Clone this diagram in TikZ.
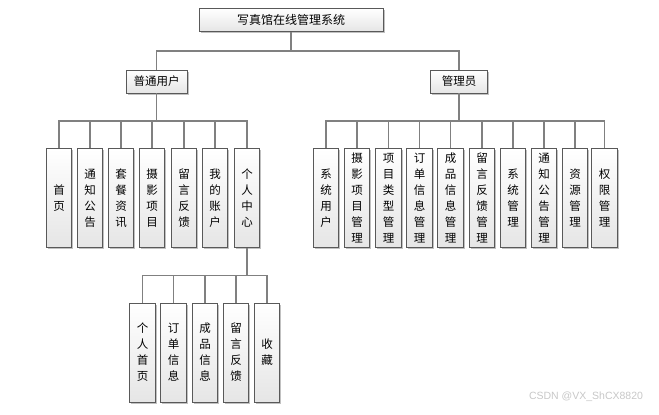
\documentclass[tikz,border=0pt]{standalone}
\usepackage{fontspec}
\setmainfont{Noto Sans CJK SC}
\newfontfamily\wmfont{Liberation Sans}
\usetikzlibrary{shadows}
\tikzset{
  box/.style={draw=black!65, line width=0.9pt, top color=white, bottom color=black!10,
    drop shadow={shadow xshift=1.6pt, shadow yshift=-1.6pt, fill=black!30, opacity=0.8},
    inner sep=0pt, align=center, font=\fontsize{11.5}{16}\selectfont},
  topbox/.style={box, minimum height=23pt},
  leafbox/.style={box, minimum width=25.5pt, minimum height=99pt},
  conn/.style={draw=black!50, line width=1.2pt}
}
\begin{document}
\begin{tikzpicture}[x=1pt,y=-1pt]
\useasboundingbox (0,0) rectangle (659,415);
% Top level
\node[topbox, minimum width=184pt, font=\fontsize{12}{16}\selectfont] (root) at (291,20) {写真馆在线管理系统};
\node[topbox, minimum width=61pt] (user) at (156.5,81.5) {普通用户};
\node[topbox, minimum width=57pt] (admin) at (459,81.5) {管理员};

% User functions
\node[leafbox] (u1) at (59,198) {首\\页};
\node[leafbox] (u2) at (90,198) {通\\知\\公\\告};
\node[leafbox] (u3) at (121,198) {套\\餐\\资\\讯};
\node[leafbox] (u4) at (152,198) {摄\\影\\项\\目};
\node[leafbox] (u5) at (184,198) {留\\言\\反\\馈};
\node[leafbox] (u6) at (215,198) {我\\的\\账\\户};
\node[leafbox] (u7) at (247,198) {个\\人\\中\\心};

% Personal center
\node[leafbox] (p1) at (142.5,352.5) {个\\人\\首\\页};
\node[leafbox] (p2) at (173.5,352.5) {订\\单\\信\\息};
\node[leafbox] (p3) at (205,352.5) {成\\品\\信\\息};
\node[leafbox] (p4) at (236,352.5) {留\\言\\反\\馈};
\node[leafbox] (p5) at (267,352.5) {收\\藏};

% Admin functions
\node[leafbox] (a1) at (326,198) {系\\统\\用\\户};
\node[leafbox] (a2) at (357,198) {摄\\影\\项\\目\\管\\理};
\node[leafbox] (a3) at (388.5,198) {项\\目\\类\\型\\管\\理};
\node[leafbox] (a4) at (419.5,198) {订\\单\\信\\息\\管\\理};
\node[leafbox] (a5) at (450.5,198) {成\\品\\信\\息\\管\\理};
\node[leafbox] (a6) at (482,198) {留\\言\\反\\馈\\管\\理};
\node[leafbox] (a7) at (513,198) {系\\统\\管\\理};
\node[leafbox] (a8) at (544,198) {通\\知\\公\\告\\管\\理};
\node[leafbox] (a9) at (575,198) {资\\源\\管\\理};
\node[leafbox] (a10) at (604.5,198) {权\\限\\管\\理};

% Connectors
\draw[conn] (root.south) -- ++(0,19) -| (user.north);
\draw[conn] (root.south) -- ++(0,19) -| (admin.north);

\draw[conn] (user.south) -- ++(0,27.5) -| (u1.north);
\draw[conn] (user.south) -- ++(0,27.5) -| (u2.north);
\draw[conn] (user.south) -- ++(0,27.5) -| (u3.north);
\draw[conn] (user.south) -- ++(0,27.5) -| (u4.north);
\draw[conn] (user.south) -- ++(0,27.5) -| (u5.north);
\draw[conn] (user.south) -- ++(0,27.5) -| (u6.north);
\draw[conn] (user.south) -- ++(0,27.5) -| (u7.north);

\draw[conn] (u7.south) -- ++(0,27.5) -| (p1.north);
\draw[conn] (u7.south) -- ++(0,27.5) -| (p2.north);
\draw[conn] (u7.south) -- ++(0,27.5) -| (p3.north);
\draw[conn] (u7.south) -- ++(0,27.5) -| (p4.north);
\draw[conn] (u7.south) -- ++(0,27.5) -| (p5.north);

\draw[conn] (admin.south) -- ++(0,27.5) -| (a1.north);
\draw[conn] (admin.south) -- ++(0,27.5) -| (a2.north);
\draw[conn] (admin.south) -- ++(0,27.5) -| (a3.north);
\draw[conn] (admin.south) -- ++(0,27.5) -| (a4.north);
\draw[conn] (admin.south) -- ++(0,27.5) -| (a5.north);
\draw[conn] (admin.south) -- ++(0,27.5) -| (a6.north);
\draw[conn] (admin.south) -- ++(0,27.5) -| (a7.north);
\draw[conn] (admin.south) -- ++(0,27.5) -| (a8.north);
\draw[conn] (admin.south) -- ++(0,27.5) -| (a9.north);
\draw[conn] (admin.south) -- ++(0,27.5) -| (a10.north);

% Watermark
\node[text=black!22, font=\wmfont\fontsize{10.5}{12}\selectfont] (mark) at (586,397) {CSDN @VX\_ShCX8820};
\end{tikzpicture}
\end{document}
